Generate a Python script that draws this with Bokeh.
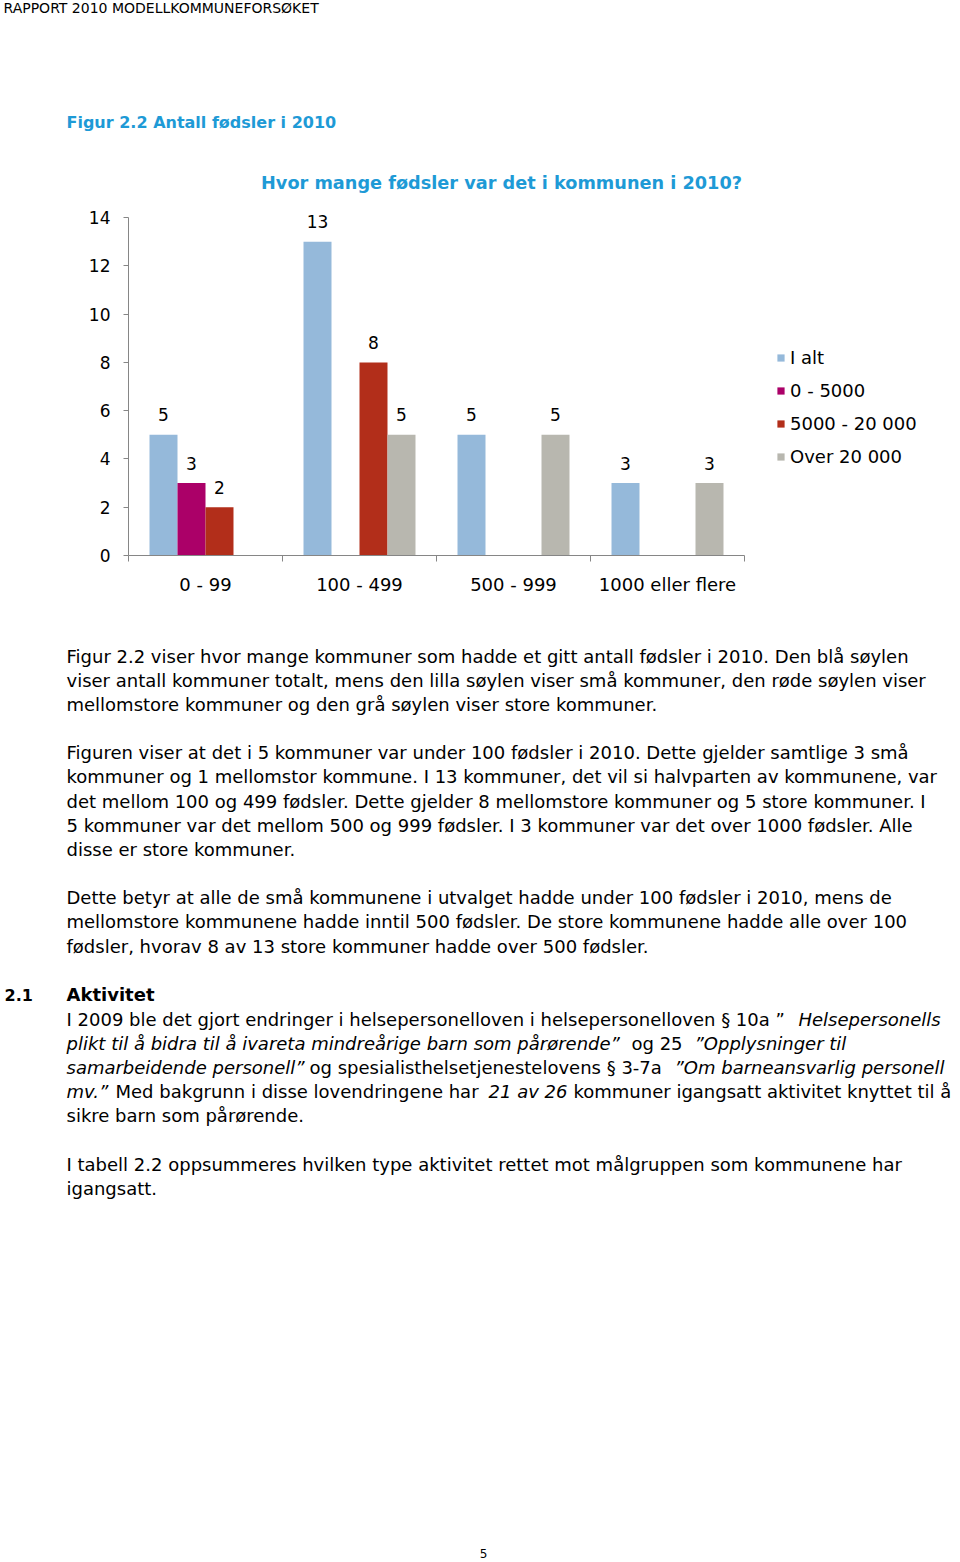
from bokeh.plotting import figure
from bokeh.models import Range1d, FixedTicker, Legend, LegendItem, ColumnDataSource, Label
from bokeh.transform import dodge
from bokeh.embed import file_html
from bokeh.resources import INLINE
from bokeh.core.properties import value

# ---------------- data ----------------
categories = ["0 - 99", "100 - 499", "500 - 999", "1000 eller flere"]
series_names = ["I alt", "0 - 5000", "5000 - 20 000", "Over 20 000"]
i_alt = [5, 13, 5, 3]
size_0_5000 = [3, 0, 0, 0]
size_5000_20000 = [2, 8, 0, 0]
size_over_20000 = [0, 5, 5, 3]
y_ticks = [0, 2, 4, 6, 8, 10, 12, 14]

series_values = [i_alt, size_0_5000, size_5000_20000, size_over_20000]
series_colors = ["#95B9DA", "#AB0068", "#B22E1A", "#B8B7AF"]

FONT = "DejaVu Sans"
BLUE = "#1E9AD6"
AX = "#868686"
W, H = 960, 1560
FL, FR, FT, FB = 128, 744, 217, 555      # chart plot area on the page (axis 0..14)
YMAX = 14
YTOP = 15                                # a little headroom so top labels are not clipped
NCAT = len(categories)
CAT_PX = (FR - FL) / NCAT
UNIT_PX = (FB - FT) / YMAX
X_END = (W - FL) / CAT_PX               # frame continues right to hold the legend
FRAME_TOP = round(FB - YTOP * UNIT_PX)

p = figure(width=W, height=H, x_range=Range1d(0, X_END), y_range=Range1d(0, YTOP),
           output_backend="svg", toolbar_location=None,
           min_border_left=FL, min_border_right=0, min_border_top=FRAME_TOP,
           min_border_bottom=H - FB, outline_line_color=None)
p.title.visible = False
p.grid.visible = False

# ---------------- bars ----------------
xc = [i + 0.5 for i in range(NCAT)]
data = dict(xc=xc, cat=categories)
keys = ["s0", "s1", "s2", "s3"]
for k, v in zip(keys, series_values):
    data[k] = v
src = ColumnDataSource(data)

offsets = [-0.2727, -0.0909, 0.0909, 0.2727]
bar_w = 0.1818
renderers = []
for k, off, col in zip(keys, offsets, series_colors):
    r = p.vbar(x=dodge("xc", off, range=p.x_range), top=k, width=bar_w, source=src,
               fill_color=col, line_color=None)
    renderers.append(r)
    lab = dict(xc=[], v=[], t=[])
    for x0, v in zip(xc, data[k]):
        if v > 0:
            lab["xc"].append(x0)
            lab["v"].append(v)
            lab["t"].append(str(v))
    p.text(x=dodge("xc", off, range=p.x_range), y="v", text="t", source=ColumnDataSource(lab),
           y_offset=-20, text_align="center", text_baseline="middle",
           text_font=value(FONT), text_font_size="17px", text_color="black")

# ---------------- axes ----------------
p.xaxis.bounds = (0, NCAT)
p.xaxis.ticker = FixedTicker(ticks=xc, minor_ticks=list(range(NCAT + 1)))
p.xaxis.major_label_overrides = {x0: c for x0, c in zip(xc, categories)}
p.xaxis.major_tick_out = 0
p.xaxis.major_tick_in = 0
p.xaxis.minor_tick_out = 6
p.xaxis.minor_tick_in = 0
p.xaxis.minor_tick_line_color = AX
p.xaxis.major_label_standoff = 12
p.xaxis.major_label_text_font_size = "18px"
p.yaxis.bounds = (0, YMAX)
p.yaxis.ticker = FixedTicker(ticks=y_ticks)
p.yaxis.major_tick_out = 5
p.yaxis.major_tick_in = 0
p.yaxis.minor_tick_line_color = None
p.yaxis.major_label_standoff = 13
p.yaxis.major_label_text_font_size = "17px"
for ax in (p.xaxis, p.yaxis):
    ax.axis_line_color = AX
    ax.major_tick_line_color = AX
    ax.major_label_text_font = FONT
    ax.major_label_text_color = "black"

legend = Legend(items=[LegendItem(label=n, renderers=[r]) for n, r in zip(series_names, renderers)],
                location=(776 - FL, 88), border_line_color=None, background_fill_alpha=0,
                padding=0, margin=0, spacing=12, glyph_width=9, glyph_height=9,
                label_standoff=5, label_height=20, label_text_font=FONT,
                label_text_font_size="18px", label_text_color="black")
p.add_layout(legend, "center")


# ---------------- page texts (side-panel labels, positioned through the chart scales) ----------------
def put(x, y, txt, size="18px", style="normal", color="black", align="left"):
    dx = (x - FL) / CAT_PX
    dy = (FB - y) * YTOP / (FB - FRAME_TOP)
    place = "above" if y < FRAME_TOP else "below"
    p.add_layout(Label(x=dx, y=dy, text=txt, text_font=FONT, text_font_size=size,
                       text_font_style=style, text_color=color, text_align=align,
                       text_baseline="middle"), place)


put(3, 7, "RAPPORT 2010 MODELLKOMMUNEFORSØKET", size="14px")
put(66, 122, "Figur 2.2 Antall fødsler i 2010", size="16px", style="bold", color=BLUE)
put(501, 182, "Hvor mange fødsler var det i kommunen i 2010?", size="17.7px",
    style="bold", color=BLUE, align="center")

para_lines = [
    (656, "Figur 2.2 viser hvor mange kommuner som hadde et gitt antall fødsler i 2010. Den blå søylen"),
    (680, "viser antall kommuner totalt, mens den lilla søylen viser små kommuner, den røde søylen viser"),
    (704, "mellomstore kommuner og den grå søylen viser store kommuner."),
    (752, "Figuren viser at det i 5 kommuner var under 100 fødsler i 2010. Dette gjelder samtlige 3 små"),
    (776, "kommuner og 1 mellomstor kommune. I 13 kommuner, det vil si halvparten av kommunene, var"),
    (801, "det mellom 100 og 499 fødsler. Dette gjelder 8 mellomstore kommuner og 5 store kommuner. I"),
    (825, "5 kommuner var det mellom 500 og 999 fødsler. I 3 kommuner var det over 1000 fødsler. Alle"),
    (849, "disse er store kommuner."),
    (897, "Dette betyr at alle de små kommunene i utvalget hadde under 100 fødsler i 2010, mens de"),
    (921, "mellomstore kommunene hadde inntil 500 fødsler. De store kommunene hadde alle over 100"),
    (946, "fødsler, hvorav 8 av 13 store kommuner hadde over 500 fødsler."),
    (1115, "sikre barn som pårørende."),
    (1164, "I tabell 2.2 oppsummeres hvilken type aktivitet rettet mot målgruppen som kommunene har"),
    (1188, "igangsatt."),
]
for y, t in para_lines:
    put(66, y, t)

put(4, 994, "2.1", size="16px", style="bold")
put(66, 994, "Aktivitet", style="bold")

segments = [
    (66, 1019, "I 2009 ble det gjort endringer i helsepersonelloven i helsepersonelloven § 10a ”", "normal"),
    (798, 1019, "Helsepersonells", "italic"),
    (66, 1043, "plikt til å bidra til å ivareta mindreårige barn som pårørende”", "italic"),
    (631, 1043, "og 25", "normal"),
    (694, 1043, "”Opplysninger til", "italic"),
    (66, 1067, "samarbeidende personell”", "italic"),
    (309, 1067, "og spesialisthelsetjenestelovens § 3-7a", "normal"),
    (674, 1067, "”Om barneansvarlig personell", "italic"),
    (66, 1091, "mv.”", "italic"),
    (115, 1091, "Med bakgrunn i disse lovendringene har", "normal"),
    (488, 1091, "21 av 26", "italic"),
    (573, 1091, "kommuner igangsatt aktivitet knyttet til å", "normal"),
]
for x, y, t, s in segments:
    put(x, y, t, style=s)

put(483, 1553, "5", size="12px", align="center")

open("out.html", "w").write(file_html(p, INLINE))
